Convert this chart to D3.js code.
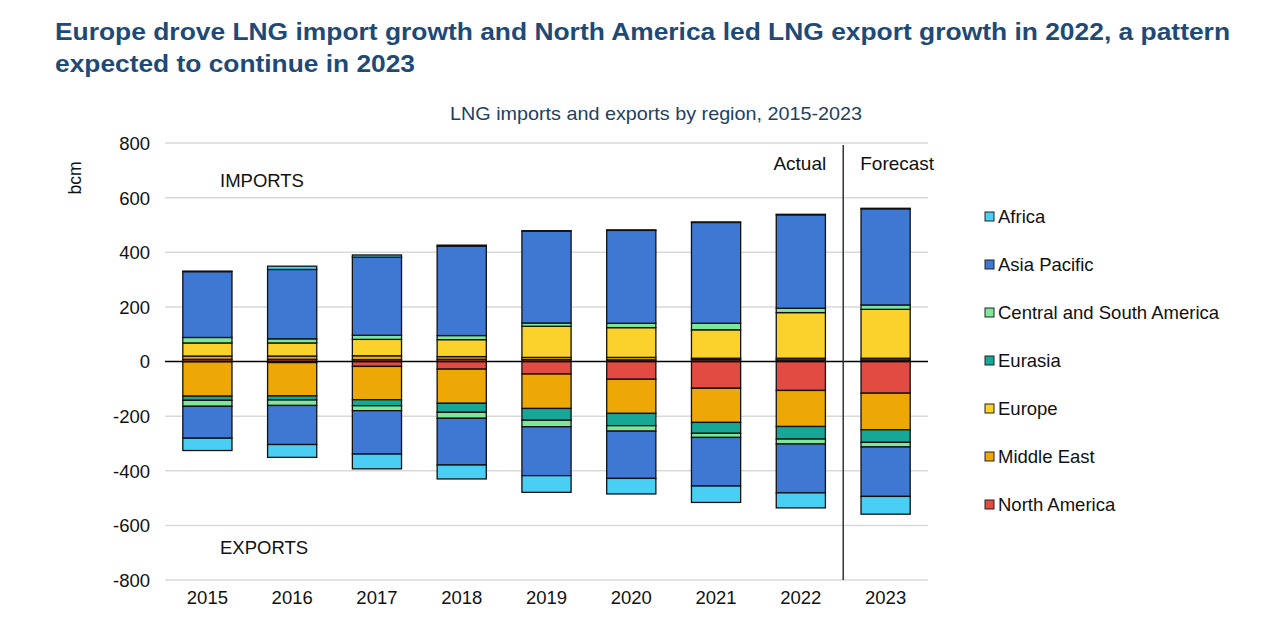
<!DOCTYPE html>
<html>
<head>
<meta charset="utf-8">
<script src="https://cdn.jsdelivr.net/npm/d3@7"></script>
<style>
  html, body { margin: 0; padding: 0; background: #ffffff; }
  svg { display: block; font-family: "Liberation Sans", Arial, sans-serif; }
</style>
</head>
<body>
<svg id="chart" width="1280" height="634"></svg>
<script>
// ---- Data (bcm) ----
const years = ["2015","2016","2017","2018","2019","2020","2021","2022","2023"];
// stacking order from zero outward
const regions = ["North America","Middle East","Europe","Eurasia","Central and South America","Asia Pacific","Africa"];
const legendOrder = ["Africa","Asia Pacific","Central and South America","Eurasia","Europe","Middle East","North America"];

// Imports
const impNorthAmerica = [8, 8, 7, 8, 7, 6, 7, 6, 6];
const impMiddleEast   = [12, 12, 14, 10, 8, 9, 5, 6, 6];
const impEurope       = [48, 48, 60, 62, 114, 109, 104, 167, 179];
const impEurasia      = [0, 0, 0, 0, 0, 0, 0, 0, 0];
const impCSAmerica    = [20, 15, 15, 15, 12, 16, 24, 16, 16];
const impAsiaPacific  = [241, 254, 286, 327, 336, 340, 369, 342, 352];
const impAfrica       = [2, 12, 8, 4, 2, 2, 2, 2, 2];

// Exports
const expNorthAmerica = [1, 4, 18, 28, 46, 65, 98, 106, 116];
const expMiddleEast   = [126, 122, 122, 125, 126, 125, 125, 132, 134];
const expEurope       = [0, 0, 0, 0, 0, 0, 0, 0, 0];
const expEurasia      = [15, 15, 22, 33, 43, 45, 40, 46, 46];
const expCSAmerica    = [22, 20, 18, 22, 24, 20, 15, 18, 17];
const expAsiaPacific  = [117, 143, 159, 171, 179, 173, 178, 179, 181];
const expAfrica       = [45, 47, 54, 51, 61, 57, 60, 55, 65];

const yTicks = [800, 600, 400, 200, 0, -200, -400, -600, -800];

const colors = {
  "Africa": "#4acff4",
  "Asia Pacific": "#3e78d2",
  "Central and South America": "#7de89a",
  "Eurasia": "#17a797",
  "Europe": "#fbd22b",
  "Middle East": "#eea806",
  "North America": "#e14b41"
};

// ---- Build tables ----
const impSeries = [impNorthAmerica, impMiddleEast, impEurope, impEurasia, impCSAmerica, impAsiaPacific, impAfrica];
const expSeries = [expNorthAmerica, expMiddleEast, expEurope, expEurasia, expCSAmerica, expAsiaPacific, expAfrica];
const impTable = years.map((y, i) => { const r = {year: y}; regions.forEach((k, j) => r[k] = impSeries[j][i]); return r; });
const expTable = years.map((y, i) => { const r = {year: y}; regions.forEach((k, j) => r[k] = -expSeries[j][i]); return r; });

const stack = d3.stack().keys(regions).offset(d3.stackOffsetDiverging);
const impStack = stack(impTable);
const expStack = stack(expTable);

// ---- Layout ----
const svg = d3.select("#chart");
const plotL = 165, plotR = 928, plotT = 143, plotB = 580;

const x = d3.scaleBand().domain(years).range([plotL, plotR]).paddingInner(0.42).paddingOuter(0.21);
const y = d3.scaleLinear().domain([-800, 800]).range([plotB, plotT]);

// Title
const title = svg.append("g").attr("fill", "#1d4a77").attr("font-weight", "bold").attr("font-size", 23.5);
title.append("text").attr("x", 55).attr("y", 40)
  .attr("textLength", 1175).attr("lengthAdjust", "spacingAndGlyphs")
  .text("Europe drove LNG import growth and North America led LNG export growth in 2022, a pattern");
title.append("text").attr("x", 55).attr("y", 72)
  .attr("textLength", 360).attr("lengthAdjust", "spacingAndGlyphs")
  .text("expected to continue in 2023");

svg.append("text").attr("x", 656).attr("y", 120).attr("text-anchor", "middle")
  .attr("font-size", 18.5).attr("fill", "#213f5f")
  .attr("textLength", 412).attr("lengthAdjust", "spacingAndGlyphs")
  .text("LNG imports and exports by region, 2015-2023");

// Gridlines
svg.append("g").selectAll("line").data(yTicks.filter(d => d !== 0)).join("line")
  .attr("x1", plotL).attr("x2", plotR)
  .attr("y1", d => y(d)).attr("y2", d => y(d))
  .attr("stroke", "#d9d9d9").attr("stroke-width", 1.5);

// Y axis labels
const yAxis = d3.axisLeft(y).tickValues(yTicks).tickSize(0).tickPadding(0).tickFormat(d => String(d));
const gy = svg.append("g").attr("transform", `translate(150,0)`).call(yAxis);
gy.select(".domain").remove();
gy.selectAll("text").attr("font-size", 18.5).attr("fill", "#111").attr("font-family", "Liberation Sans, Arial, sans-serif").attr("dy", "0.35em");

// X axis labels
const xAxis = d3.axisBottom(x).tickSize(0).tickPadding(0);
const gx = svg.append("g").attr("transform", `translate(0,${plotB})`).call(xAxis);
gx.select(".domain").remove();
gx.selectAll("text").attr("font-size", 18.5).attr("fill", "#111").attr("font-family", "Liberation Sans, Arial, sans-serif").attr("y", 24).attr("dy", 0);

// bcm label
svg.append("text").attr("transform", "translate(81,178) rotate(-90)").attr("text-anchor", "middle")
  .attr("font-size", 17.5).attr("fill", "#111").text("bcm");

// Bars
function drawStack(st) {
  svg.append("g").selectAll("g").data(st).join("g")
    .attr("fill", d => colors[d.key])
    .selectAll("rect").data(d => d).join("rect")
    .attr("x", d => x(d.data.year))
    .attr("width", x.bandwidth())
    .attr("y", d => y(Math.max(d[0], d[1])))
    .attr("height", d => Math.abs(y(d[0]) - y(d[1])))
    .attr("stroke", "#111").attr("stroke-width", 1.3);
}
drawStack(impStack);
drawStack(expStack);

// Zero line
svg.append("line").attr("x1", plotL).attr("x2", plotR).attr("y1", y(0)).attr("y2", y(0))
  .attr("stroke", "#000").attr("stroke-width", 1.6);

// Actual / Forecast divider
const divX = x("2023") - x.step() * x.paddingInner() / 2;
svg.append("line").attr("x1", divX).attr("x2", divX).attr("y1", plotT + 2).attr("y2", plotB)
  .attr("stroke", "#333").attr("stroke-width", 1.5);
svg.append("text").attr("x", divX - 17).attr("y", 170).attr("text-anchor", "end")
  .attr("font-size", 19).attr("fill", "#111").text("Actual");
svg.append("text").attr("x", divX + 17).attr("y", 170).attr("text-anchor", "start")
  .attr("font-size", 19).attr("fill", "#111").text("Forecast");

// IMPORTS / EXPORTS
svg.append("text").attr("x", 220).attr("y", 187).attr("font-size", 18.5).attr("fill", "#111").text("IMPORTS");
svg.append("text").attr("x", 220).attr("y", 554).attr("font-size", 18.5).attr("fill", "#111").text("EXPORTS");

// Legend
const lg = svg.append("g").selectAll("g").data(legendOrder).join("g")
  .attr("transform", (d, i) => `translate(985,${217 + i * 48})`);
lg.append("rect").attr("x", 0).attr("y", -5).attr("width", 9).attr("height", 9)
  .attr("fill", d => colors[d]).attr("stroke", "#222").attr("stroke-width", 1);
lg.append("text").attr("x", 13).attr("y", 0).attr("dy", "0.35em").attr("font-size", 18.5).attr("fill", "#111").text(d => d);
</script>
</body>
</html>
